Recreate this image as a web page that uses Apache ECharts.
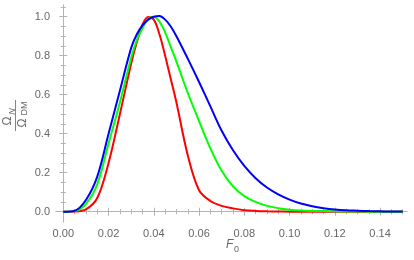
<!DOCTYPE html>
<html>
<head>
<meta charset="utf-8">
<script src="https://cdn.jsdelivr.net/npm/echarts@6/dist/echarts.min.js"></script>
<style>html,body{margin:0;padding:0;background:#fff}#c{width:414px;height:260px}</style>
</head>
<body>
<div id="c"></div>
<script>
// F0 sample positions
const xs = [0, 0.005, 0.01, 0.015, 0.02, 0.025, 0.03, 0.0325, 0.035, 0.0375, 0.04, 0.0425, 0.045, 0.0475, 0.05,
  0.055, 0.06, 0.065, 0.07, 0.075, 0.08, 0.085, 0.09, 0.095, 0.1, 0.105, 0.11, 0.115, 0.12, 0.125, 0.13, 0.135, 0.14, 0.145, 0.15];
const red   = [0, 0.001, 0.012, 0.07, 0.25, 0.50, 0.76, 0.87, 0.96, 0.998, 0.985, 0.91, 0.80, 0.68, 0.56,
  0.29, 0.11, 0.055, 0.03, 0.017, 0.008, 0.004, 0.002, 0.001, 0, 0, 0, 0, 0, 0, 0, 0, 0, 0, 0];
const green = [0, 0.003, 0.04, 0.14, 0.35, 0.56, 0.79, 0.88, 0.94, 0.99, 1.0, 0.975, 0.92, 0.845, 0.77,
  0.61, 0.465, 0.325, 0.21, 0.13, 0.08, 0.05, 0.03, 0.018, 0.01, 0.006, 0.004, 0.003, 0.002, 0.001, 0.001, 0, 0, 0, 0];
const blue  = [0, 0.005, 0.06, 0.18, 0.40, 0.62, 0.84, 0.91, 0.955, 0.985, 1.0, 1.004, 0.985, 0.95, 0.90,
  0.785, 0.665, 0.54, 0.415, 0.315, 0.235, 0.172, 0.124, 0.089, 0.062, 0.042, 0.028, 0.018, 0.011, 0.007, 0.005, 0.003, 0.002, 0.001, 0.001];
const xMajor = [0, 0.02, 0.04, 0.06, 0.08, 0.10, 0.12, 0.14];
const xMinor = [0.005, 0.01, 0.015, 0.025, 0.03, 0.035, 0.045, 0.05, 0.055, 0.065, 0.07, 0.075, 0.085, 0.09, 0.095, 0.105, 0.11, 0.115, 0.125, 0.13, 0.135, 0.145, 0.15];
const yMajor = [0, 0.2, 0.4, 0.6, 0.8, 1.0];
const yMinor = [0.05, 0.1, 0.15, 0.25, 0.3, 0.35, 0.45, 0.5, 0.55, 0.65, 0.7, 0.75, 0.85, 0.9, 0.95, 1.05];

const X_MIN = -0.00323, X_MAX = 0.1519, Y_MIN = -0.0528, Y_MAX = 1.06;
const FRAME = '#b4b4b4', TXT = '#666666', FONT = 'Liberation Sans';

function xAx(pos, vals, len, showLine, labels) {
  return {
    type: 'value', position: pos, min: X_MIN, max: X_MAX,
    axisLine: { show: showLine, lineStyle: { color: FRAME, width: 1 } },
    axisTick: { show: true, inside: true, length: len, customValues: vals, lineStyle: { color: FRAME } },
    axisLabel: labels ? { show: true, customValues: vals, margin: 6, color: TXT, fontSize: 11, fontFamily: FONT,
      formatter: v => v.toFixed(2) } : { show: false },
    splitLine: { show: false }
  };
}
function yAx(pos, vals, len, showLine, labels) {
  return {
    type: 'value', position: pos, min: Y_MIN, max: Y_MAX,
    axisLine: { show: showLine, lineStyle: { color: FRAME, width: 1 } },
    axisTick: { show: true, inside: true, length: len, customValues: vals, lineStyle: { color: FRAME } },
    axisLabel: labels ? { show: true, customValues: vals, margin: 6, color: TXT, fontSize: 11, fontFamily: FONT,
      formatter: v => v.toFixed(1) } : { show: false },
    splitLine: { show: false }
  };
}
function mk(arr) { return xs.map((x, i) => [x, arr[i]]); }
function line(name, arr, color) {
  return { name, type: 'line', data: mk(arr), xAxisIndex: 0, yAxisIndex: 0, smooth: 0.35,
    symbol: 'none', lineStyle: { color, width: 2 }, itemStyle: { color }, animation: false, z: 3 };
}

const chart = echarts.init(document.getElementById('c'), null, { renderer: 'canvas' });
chart.setOption({
  animation: false,
  backgroundColor: '#ffffff',
  grid: { left: 56, right: 7, top: 5, bottom: 38, containLabel: false },
  xAxis: [
    xAx('bottom', xMajor, 4, true, true),
    xAx('bottom', xMinor, 2.5, false, false),
    xAx('top', xMajor, 4, true, false),
    xAx('top', xMinor, 2.5, false, false)
  ],
  yAxis: [
    yAx('left', yMajor, 4, true, true),
    yAx('left', yMinor, 2.5, false, false),
    yAx('right', yMajor, 4, true, false),
    yAx('right', yMinor, 2.5, false, false)
  ],
  series: [
    line('red', red, '#ff0000'),
    line('green', green, '#00ff00'),
    line('blue', blue, '#0000ff')
  ],
  graphic: [
    { type: 'text', left: 226, top: 239, style: { text: 'F', font: 'italic 12px "Liberation Sans"', fill: TXT } },
    { type: 'text', left: 234, top: 245, style: { text: '0', font: '9px "Liberation Sans"', fill: TXT } },
    { type: 'group', x: 15.5, y: 115, rotation: Math.PI / 2, children: [
      { type: 'text', x: -6, y: -7.5, style: { text: 'Ω', font: '12px "Liberation Sans"', fill: TXT, align: 'center', verticalAlign: 'middle' } },
      { type: 'text', x: 3.5, y: -3.5, style: { text: 'N', font: 'italic 9px "Liberation Sans"', fill: TXT, align: 'center', verticalAlign: 'middle' } },
      { type: 'line', shape: { x1: -16, y1: 0, x2: 15, y2: 0 }, style: { stroke: TXT, lineWidth: 0.8 } },
      { type: 'text', x: -8, y: 7, style: { text: 'Ω', font: '12px "Liberation Sans"', fill: TXT, align: 'center', verticalAlign: 'middle' } },
      { type: 'text', x: 6.5, y: 9.5, style: { text: 'DM', font: '9px "Liberation Sans"', fill: TXT, align: 'center', verticalAlign: 'middle' } }
    ] }
  ]
});
</script>
</body>
</html>
